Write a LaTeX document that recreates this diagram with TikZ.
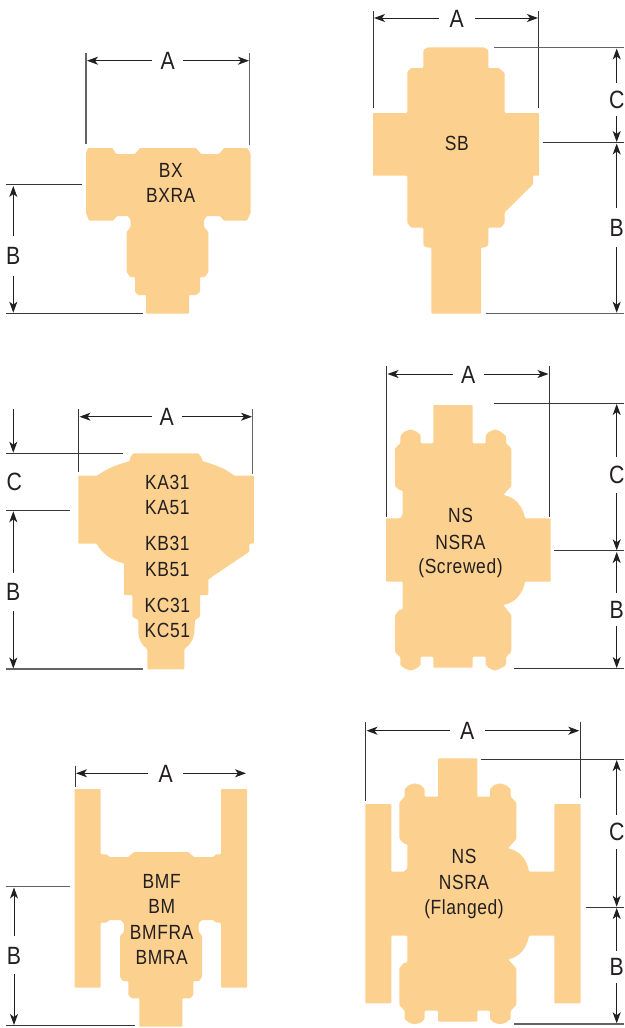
\documentclass[tikz,border=0pt]{standalone}
\usepackage{fontspec}
\setmainfont{Liberation Sans}[FakeStretch=0.85]
\newfontfamily\tagfont{Liberation Sans}[FakeStretch=0.85,LetterSpace=3]
\usetikzlibrary{arrows.meta}
\definecolor{body}{HTML}{FCD08E}
\definecolor{ink}{HTML}{231F20}
\tikzset{
  x=1pt,y=-1pt,
  valve/.style={fill=body,draw=none,rounded corners=0.9pt},
  extline/.style={draw=ink!90,line width=1pt},
  extheavy/.style={draw=ink!70,line width=1.4pt},
  dimline/.style={draw=ink,line width=1pt,-{Stealth[length=11pt,width=8pt,inset=3pt]}},
  dimlbl/.style={font=\fontsize{25}{25}\selectfont,text=ink,inner sep=0pt,text height=18pt,text depth=0pt},
  tag/.style={font=\tagfont\fontsize{20.5}{21}\selectfont,text=ink,inner sep=0pt,anchor=center},
}
% name, centre x, y, half gap, left end x, right end x
\newcommand\hdimen[6]{%
  \node[dimlbl,minimum width={2*#4}] (#1) at (#2,#3) {A};
  \coordinate (#1l) at (#5,#3);
  \coordinate (#1r) at (#6,#3);
  \draw[dimline] (#1.west) -- (#1l);
  \draw[dimline] (#1.east) -- (#1r);}
% name, x, centre y, half gap, top end y, bottom end y, letter
\newcommand\vdimen[7]{%
  \node[dimlbl,minimum height={2*#4}] (#1) at (#2,#3) {#7};
  \coordinate (#1t) at (#2,#5);
  \coordinate (#1b) at (#2,#6);
  \draw[dimline] (#1.north) -- (#1t);
  \draw[dimline] (#1.south) -- (#1b);}
% name, x1, y1, x2, y2, style
\newcommand\extn[6]{%
  \coordinate (#1a) at (#2,#3);
  \coordinate (#1b) at (#4,#5);
  \draw[#6] (#1a) -- (#1b);}
\begin{document}
\begin{tikzpicture}
\useasboundingbox (0,0) rectangle (624,1028);

% ---------- BX ----------
\fill[valve] (88,148) -- (112.5,148) -- (116,154) -- (135,154) -- (140,148) -- (196,148) -- (201,154) -- (219,154) -- (224,148) -- (247,148) -- (250.5,153) -- (250.5,213) -- (247,220.7) -- (224,220.7) -- (220,216) -- (207,216) -- (204,220) -- (204,227) -- (208.3,232) -- (208.3,272) -- (205,277) -- (200,277) -- (200,292) -- (196,295) -- (189,295) -- (189,313.7) -- (146,313.7) -- (146,295) -- (138,295) -- (135,292) -- (135,277) -- (130,277) -- (126.7,272) -- (126.7,232) -- (130.6,227) -- (130.6,220) -- (128,216) -- (117,216) -- (113,220.7) -- (89,220.7) -- (86,213) -- (86,153) -- cycle;
\extn{bxl}{86}{53.3}{86}{144}{extheavy}
\extn{bxr}{249.7}{53.3}{249.7}{145}{extheavy}
\extn{bxt}{6}{184.5}{82}{184.5}{extline}
\extn{bxu}{6}{313.3}{143.3}{313.3}{extline}
\hdimen{bxA}{167.7}{60.7}{15.5}{87}{249}
\vdimen{bxB}{13.3}{255.7}{20}{186}{312.7}{B}
\node[tag] (bx1) at (170.7,170) {BX};
\node[tag] (bx2) at (170.7,195) {BXRA};

% ---------- SB ----------
\fill[valve] (423.3,50) -- (428,47.3) -- (484,47.3) -- (488.3,50) -- (488.3,68) -- (499,68) -- (504.7,73) -- (504.7,113) -- (539,113) -- (539,175.7) -- (533,175.7) -- (533,184.3) -- (504.7,212.3) -- (504.7,223) -- (500.7,227.7) -- (488.3,227.7) -- (488.3,245) -- (485.7,247.3) -- (481,247.7) -- (481,313.7) -- (431.3,313.7) -- (431.3,247.7) -- (425.7,247.3) -- (423.3,245) -- (423.3,227.7) -- (411.3,227.7) -- (407.3,223) -- (407.3,175.7) -- (373,175.7) -- (373,113) -- (407.3,113) -- (407.3,71.7) -- (411.3,68) -- (423.3,68) -- cycle;
\extn{sbl}{373}{10.7}{373}{108}{extline}
\extn{sbr}{538.7}{10.7}{538.7}{108}{extline}
\extn{sbt}{494}{47.7}{624}{47.7}{extheavy}
\extn{sbm}{543.3}{142.7}{624}{142.7}{extline}
\extn{sbu}{485.7}{313.3}{624}{313.3}{extheavy}
\hdimen{sbA}{456.7}{18}{18}{374}{538}
\vdimen{sbC}{616.7}{99}{16.3}{48.5}{142}{C}
\vdimen{sbB}{616.7}{227.5}{19.3}{143.5}{312.7}{B}
\node[tag] (sb1) at (456.7,143.5) {SB};

% ---------- KA/KB/KC ----------
\fill[valve] (130,458) -- (133.3,453.3) -- (198.3,453.3) -- (202,458.3) -- (202,461) .. controls (216,465) and (226,469) .. (234.3,475.7) -- (253.8,475.7) -- (253.8,543.7) -- (249.3,543.7) -- (249.3,551.7) -- (208.3,579.3) -- (208.3,595) -- (200,595) -- (200,616.7) -- (195,620) -- (194.3,633) .. controls (193,640) and (190,645) .. (184.3,649) -- (184.3,669.3) -- (147.3,669.3) -- (147.3,649) .. controls (142,645) and (139,640) .. (138.3,633) -- (138.3,620) -- (132.3,616.7) -- (132.3,595) -- (124,595) -- (124,563.3) .. controls (110,560) and (102,553) .. (96.7,543.7) -- (78.3,543.7) -- (78.3,475.7) -- (97.3,475.7) .. controls (106,469) and (116,465) .. (130,461) -- cycle;
\extn{kal}{78.7}{409}{78.7}{472}{extline}
\extn{kar}{252.7}{409}{252.7}{474}{extheavy}
\extn{kat}{6}{453.3}{123.3}{453.3}{extline}
\extn{kam}{6}{510.7}{70}{510.7}{extline}
\extn{kau}{6}{669}{143.3}{669}{extheavy}
\hdimen{kaA}{166.7}{416.7}{15}{79.5}{252}
\coordinate (kaCtop) at (13.3,409);
\coordinate (kaCend) at (13.3,452.7);
\draw[dimline] (kaCtop) -- (kaCend);
\node[dimlbl] (kaC) at (14.3,481.7) {C};
\vdimen{kaB}{13.3}{591.7}{19}{511.3}{668.5}{B}
\node[tag] (ka1) at (167.3,482.3) {KA31};
\node[tag] (ka2) at (167.3,507.7) {KA51};
\node[tag] (ka3) at (167.3,543.7) {KB31};
\node[tag] (ka4) at (167.3,569.7) {KB51};
\node[tag] (ka5) at (167.3,605.7) {KC31};
\node[tag] (ka6) at (167.3,630.3) {KC51};

% ---------- NS screwed ----------
\fill[valve] (433.3,405) -- (472.7,405) -- (472.7,443.3) -- (485.7,443.3) -- (485.7,435) -- (489.3,431.7) -- (495,429.3) -- (500.7,431.7) -- (506,436) -- (506,443.3) -- (511.3,448.3) -- (511.3,486) -- (503.3,495) .. controls (515,497) and (523,507) .. (525,518.3) -- (550.7,518.3) -- (550.7,581.7) -- (525,581.7) .. controls (523,593) and (515,603) .. (503.3,605) -- (511.3,615) -- (511.3,651.7) -- (506,657.3) -- (506,665) -- (500.7,668.3) -- (495,670.7) -- (489.3,668.3) -- (485.7,665) -- (485.7,656.7) -- (472.7,656.7) -- (472.7,667.7) -- (433.3,667.7) -- (433.3,656.7) -- (420.7,656.7) -- (420.7,665) -- (416.7,668.3) -- (410.7,670.7) -- (404.3,668.3) -- (400.3,665) -- (400.3,657.3) -- (395,651.7) -- (395,615) -- (399.3,610) -- (402.7,609.3) -- (402.7,581.7) -- (386,581.7) -- (386,518.3) -- (400,518.3) -- (402.7,515) -- (402.7,490.7) -- (399.3,490) -- (395,486) -- (395,448.3) -- (400.3,443.3) -- (400.3,436) -- (404.3,431.7) -- (410.7,429.3) -- (416.7,431.7) -- (420.7,435) -- (420.7,443.3) -- (433.3,443.3) -- cycle;
\extn{nsl}{386.7}{366}{386.7}{516.7}{extline}
\extn{nsr}{549.3}{366}{549.3}{516.7}{extline}
\extn{nst}{494}{403.3}{624}{403.3}{extline}
\extn{nsm}{554}{550.7}{624}{550.7}{extline}
\extn{nsu}{514}{668.7}{624}{668.7}{extline}
\hdimen{nsA}{468.3}{374}{15}{387.5}{548.5}
\vdimen{nsC}{616.7}{474.7}{18}{404}{550.3}{C}
\vdimen{nsB}{616.7}{609.3}{16}{552}{668}{B}
\node[tag] (ns1) at (460.5,515) {NS};
\node[tag] (ns2) at (460.5,542) {NSRA};
\node[tag] (ns3) at (460.5,568.5) {(Screwed)};

% ---------- BM ----------
\fill[valve] (74.7,789) -- (100.7,789) -- (100.7,854.3) -- (106.7,854.3) -- (109.3,857) -- (128.3,857) -- (134,852) -- (188.3,852) -- (194,857) -- (213.3,857) -- (216,854.3) -- (221,854.3) -- (221,789) -- (247,789) -- (247,987.7) -- (221,987.7) -- (221,922.7) -- (216,922.7) -- (213.3,920) -- (201.7,920) -- (198.7,923.3) -- (198.7,931.7) -- (202,936) -- (202,976.7) -- (199.3,981) -- (193.3,981) -- (193.3,995) -- (190,998.3) -- (182.3,998.3) -- (182.3,1026.7) -- (139.3,1026.7) -- (139.3,998.3) -- (131.7,998.3) -- (128.3,995) -- (128.3,981) -- (122.7,981) -- (120,976.7) -- (120,936) -- (124,931.7) -- (124,923.3) -- (120.7,920) -- (109.3,920) -- (106.7,922.7) -- (100.7,922.7) -- (100.7,987.7) -- (74.7,987.7) -- cycle;
\extn{bml}{75.3}{765.7}{75.3}{786.7}{extline}
\extn{bmt}{6}{886.7}{70}{886.7}{extheavy}
\extn{bmu}{6}{1025.7}{135}{1025.7}{extline}
\hdimen{bmA}{165.7}{773.3}{17.5}{76}{246}
\vdimen{bmB}{14}{955}{19}{887.5}{1025}{B}
\node[tag] (bm1) at (161.7,881.7) {BMF};
\node[tag] (bm2) at (161.7,906.7) {BM};
\node[tag] (bm3) at (161.7,932.3) {BMFRA};
\node[tag] (bm4) at (161.7,957.3) {BMRA};

% ---------- NS flanged ----------
\fill[valve] (365.3,804) -- (391.3,804) -- (391.3,871.7) -- (404,871.7) -- (407.3,868.3) -- (407.3,844.3) -- (403.3,843.3) -- (399.3,838.3) -- (399.3,802.3) -- (404.7,796.7) -- (404.7,789) -- (409,785) -- (414.7,783.3) -- (420.7,785) -- (424.7,789) -- (424.7,796.7) -- (438,796.7) -- (438,758.3) -- (477.3,758.3) -- (477.3,796.7) -- (490,796.7) -- (490,789) -- (494,785) -- (500,783.3) -- (505.7,785) -- (510.7,789) -- (510.7,796.7) -- (516.3,802.3) -- (516.3,839) -- (508,848.3) .. controls (520,851) and (527,860) .. (529,871.7) -- (554.3,871.7) -- (554.3,804) -- (580.7,804) -- (580.7,1003.3) -- (554.3,1003.3) -- (554.3,935.7) -- (529,935.7) .. controls (527,947) and (520,957) .. (508,959.3) -- (516.3,968.3) -- (516.3,1005) -- (510.7,1010.7) -- (510.7,1019) -- (505.7,1022.7) -- (500,1024.3) -- (494,1022.7) -- (490,1019) -- (490,1010.7) -- (477.3,1010.7) -- (477.3,1021.7) -- (438,1021.7) -- (438,1010.7) -- (424.7,1010.7) -- (424.7,1019) -- (420.7,1022.7) -- (414.7,1024.3) -- (409,1022.7) -- (404.7,1019) -- (404.7,1010.7) -- (399.3,1005) -- (399.3,968.3) -- (403.3,963.3) -- (407.3,962.3) -- (407.3,935.7) -- (391.3,935.7) -- (391.3,1003.3) -- (365.3,1003.3) -- cycle;
\extn{nfl}{365.7}{722.3}{365.7}{801}{extline}
\extn{nfr}{580.4}{722.3}{580.4}{798.3}{extline}
\extn{nft}{480.7}{759.3}{624}{759.3}{extline}
\extn{nfm}{585.7}{907.3}{624}{907.3}{extline}
\extn{nfu}{514}{1024}{624}{1024}{extheavy}
\hdimen{nfA}{467.3}{730.7}{17.5}{366.5}{579.3}
\vdimen{nfC}{616.7}{831.7}{17}{760}{906.7}{C}
\vdimen{nfB}{616.7}{966.7}{16}{908}{1023.3}{B}
\node[tag] (nf1) at (464,856.7) {NS};
\node[tag] (nf2) at (464,882.7) {NSRA};
\node[tag] (nf3) at (464,909) {(Flanged)};
\end{tikzpicture}
\end{document}
